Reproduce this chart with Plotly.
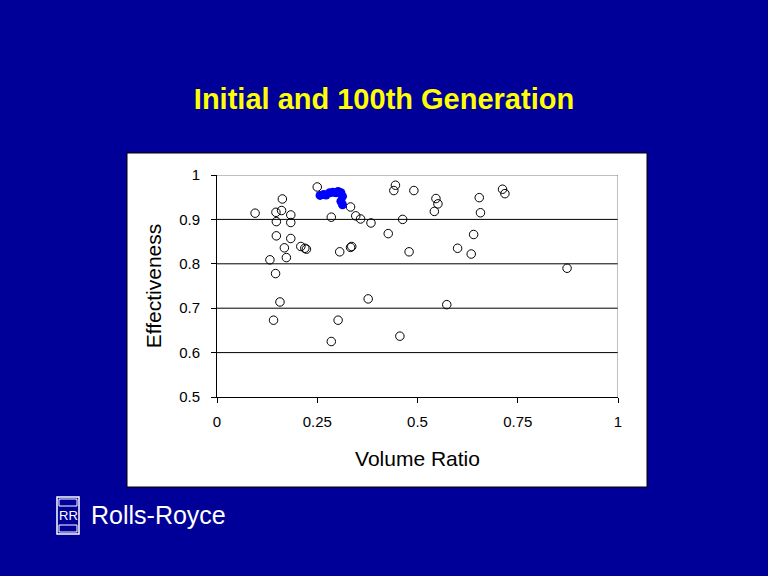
import plotly.graph_objects as go

# Initial generation (open circles)
init_x = [0.250, 0.163, 0.095, 0.147, 0.161, 0.184, 0.148, 0.184, 0.285, 0.333,
          0.346, 0.358, 0.384, 0.148, 0.184, 0.168, 0.209, 0.219, 0.223, 0.173,
          0.132, 0.306, 0.333, 0.336, 0.146, 0.157, 0.141, 0.302, 0.285, 0.445,
          0.441, 0.491, 0.546, 0.551, 0.542, 0.654, 0.657, 0.712, 0.718, 0.463,
          0.427, 0.640, 0.479, 0.600, 0.634, 0.377, 0.573, 0.456, 0.873]
init_y = [0.973, 0.946, 0.914, 0.916, 0.920, 0.910, 0.895, 0.893, 0.905, 0.928,
          0.908, 0.901, 0.892, 0.863, 0.857, 0.836, 0.839, 0.835, 0.833, 0.814,
          0.809, 0.827, 0.837, 0.839, 0.778, 0.714, 0.673, 0.673, 0.625, 0.977,
          0.965, 0.965, 0.947, 0.935, 0.918, 0.949, 0.915, 0.968, 0.958, 0.900,
          0.868, 0.866, 0.827, 0.835, 0.822, 0.721, 0.708, 0.637, 0.790]

# 100th generation (filled blue)
gen100_x = [0.257, 0.266, 0.281, 0.289, 0.297, 0.309, 0.313, 0.309, 0.313, 0.272, 0.302]
gen100_y = [0.954, 0.956, 0.960, 0.961, 0.960, 0.960, 0.952, 0.941, 0.933, 0.955, 0.963]

x_ticks = [0, 0.25, 0.5, 0.75, 1]
x_tick_labels = ["0", "0.25", "0.5", "0.75", "1"]
y_ticks = [0.5, 0.6, 0.7, 0.8, 0.9, 1.0]
y_tick_labels = ["0.5", "0.6", "0.7", "0.8", "0.9", "1"]

title_text = "Initial and 100th Generation"
x_title = "Volume Ratio"
y_title = "Effectiveness"
logo_text = "Rolls-Royce"

FONT = "Liberation Sans, Arial, sans-serif"
BG = "#000099"

fig = go.Figure()
fig.add_trace(go.Scatter(
    x=init_x, y=init_y, mode="markers",
    marker=dict(symbol="circle-open", size=8.5, color="black", line=dict(width=1)),
    showlegend=False, hoverinfo="skip"))
fig.add_trace(go.Scatter(
    x=gen100_x, y=gen100_y, mode="markers",
    marker=dict(symbol="circle", size=9, color="#0000FF", line=dict(width=0)),
    showlegend=False, hoverinfo="skip"))

shapes = []
# White chart box
shapes.append(dict(type="rect", xref="paper", yref="paper",
                   x0=(127 - 217) / 401, x1=(647 - 217) / 401,
                   y0=(397 - 487) / 222, y1=(397 - 153) / 222,
                   fillcolor="white", line=dict(color="black", width=1), layer="below"))
# Gridlines
for v in y_ticks[1:-1]:
    shapes.append(dict(type="line", xref="x", yref="y", x0=0, x1=1, y0=v, y1=v,
                       line=dict(color="black", width=1), layer="below"))
# Gray top/right border
shapes.append(dict(type="line", xref="x", yref="y", x0=0, x1=1, y0=1, y1=1,
                   line=dict(color="#808080", width=1), layer="below"))
shapes.append(dict(type="line", xref="x", yref="y", x0=1, x1=1, y0=0.5, y1=1,
                   line=dict(color="#808080", width=1), layer="below"))

# Logo emblem (pixel -> paper conversion)
def px(xp):
    return (xp - 217) / 401

def py(yp):
    return (397 - yp) / 222

shapes.append(dict(type="rect", xref="paper", yref="paper",
                   x0=px(57), x1=px(79), y0=py(534), y1=py(497),
                   line=dict(color="white", width=1.5), fillcolor=BG))
shapes.append(dict(type="rect", xref="paper", yref="paper",
                   x0=px(59), x1=px(77), y0=py(506), y1=py(499),
                   line=dict(color="white", width=1), fillcolor=BG))
shapes.append(dict(type="rect", xref="paper", yref="paper",
                   x0=px(59), x1=px(77), y0=py(532), y1=py(525),
                   line=dict(color="white", width=1), fillcolor=BG))

annotations = [
    dict(text="RR", xref="paper", yref="paper", x=px(68), y=py(515.5),
         xanchor="center", yanchor="middle", showarrow=False,
         font=dict(family=FONT, size=13, color="white")),
    dict(text=logo_text, xref="paper", yref="paper", x=px(89), y=py(515),
         xanchor="left", yanchor="middle", showarrow=False,
         font=dict(family=FONT, size=25, color="white")),
]

fig.update_layout(
    width=768, height=576, autosize=False,
    margin=dict(l=217, r=150, t=175, b=179, pad=0),
    paper_bgcolor=BG, plot_bgcolor="white",
    title=dict(text="<b>" + title_text + "</b>", x=0.5, xref="container", xanchor="center",
               y=1 - 99 / 576, yref="container", yanchor="middle",
               font=dict(family=FONT, size=29, color="#FFFF00")),
    xaxis=dict(range=[0, 1], tickvals=x_ticks, ticktext=x_tick_labels,
               showgrid=False, zeroline=False, showline=True, linecolor="black", linewidth=1,
               ticks="outside", ticklen=5, tickcolor="black", tickwidth=1,
               tickfont=dict(family=FONT, size=15, color="black"),
               ticklabelstandoff=6,
               title=dict(text=x_title, standoff=22, font=dict(family=FONT, size=21, color="black"))),
    yaxis=dict(range=[0.5, 1], tickvals=y_ticks, ticktext=y_tick_labels,
               showgrid=False, zeroline=False, showline=True, linecolor="black", linewidth=1,
               ticks="outside", ticklen=5, tickcolor="black", tickwidth=1,
               tickfont=dict(family=FONT, size=15, color="black"),
               ticklabelstandoff=8,
               title=dict(text=y_title, standoff=11, font=dict(family=FONT, size=21, color="black"))),
    shapes=shapes,
    annotations=annotations,
)

fig.write_html("out.html",
               config={"displayModeBar": False, "staticPlot": True},
               post_script="document.body.style.margin='0';document.body.style.background='" + BG + "';")
